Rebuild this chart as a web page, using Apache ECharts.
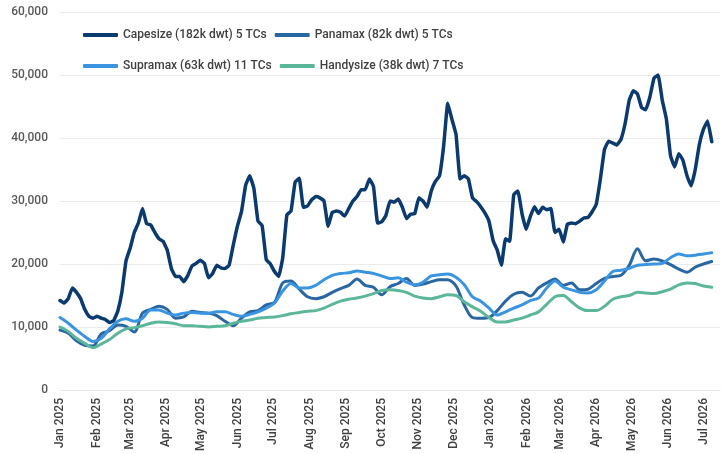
<!DOCTYPE html>
<html>
<head>
<meta charset="utf-8">
<script src="https://cdn.jsdelivr.net/npm/echarts@6/dist/echarts.min.js"></script>
<style>
html,body{margin:0;padding:0;background:#fff;}
#chart{width:723px;height:454px;}
</style>
</head>
<body>
<div id="chart"></div>
<script>
// Series names
const seriesNames = ['Capesize (182k dwt) 5 TCs', 'Panamax (82k dwt) 5 TCs', 'Supramax (63k dwt) 11 TCs', 'Handysize (38k dwt) 7 TCs'];
const monthNames = ['Jan','Feb','Mar','Apr','May','Jun','Jul','Aug','Sep','Oct','Nov','Dec'];

// Capesize: twice-weekly points from 1 Jan 2025
const capesize = [
14200,13800,14500,16200,15500,14500,12800,11700,11400,11700,
11400,11200,10700,11000,12500,15500,20500,22500,25000,26500,
28800,26400,26200,25000,24000,23600,22200,19300,18000,18000,
17200,18200,19700,20100,20600,20100,17800,18500,19800,19400,
19300,19800,23000,26000,28300,32500,34000,32000,26800,26100,
20700,20000,18800,18000,21000,27800,28400,33000,33600,29000,
29200,30200,30700,30500,30000,26000,28200,28400,28200,27600,
28800,30000,30700,31800,31800,33500,32300,26500,26700,27700,
30000,29800,30300,29000,27200,27900,28000,30500,30000,29000,
31600,33100,34000,38700,45500,43000,40600,33500,34000,33500,
30500,29900,29100,28100,26800,23700,22200,19800,24000,23600,
31000,31600,28000,25500,27500,29100,28000,29000,28600,28800,
25000,25500,23500,26300,26500,26400,26800,27300,27400,28300,
29500,33500,38200,39500,39200,38900,39800,42300,46000,47500,
47000,44800,44500,46500,49500,50000,46000,43000,37200,35400,
37500,36500,34000,32400,35000,39000,41400,42700,39400
];

// Weekly points from 1 Jan 2025
const panamax = [
9500,9000,7800,7100,7000,8900,9400,10300,10100,9200,
12200,12800,13300,12800,11400,11600,12500,12300,12200,11800,
10900,10200,11400,12400,12600,13500,13900,17000,17300,16000,
14800,14500,14800,15500,16100,16600,17600,16600,16300,15100,
16400,16900,17700,16600,16800,17200,17500,17500,16500,13500,
11500,11400,11500,12600,14100,15200,15500,14900,16200,17000,
17600,16600,17000,15900,16000,16900,17700,18000,18200,19800,
22400,20500,20800,20500,19900,19200,18700,19500,20000,20400
];
const supramax = [
11500,10600,9500,8500,7700,8200,9700,10900,11300,10900,
11400,12700,12700,12200,11900,12200,12300,12200,12200,12400,
12400,12000,11700,12000,12400,13000,13800,15700,16900,16200,
16200,16600,17500,18200,18500,18600,18900,18700,18500,18100,
17700,17800,17100,16700,17100,18100,18300,18400,17900,16700,
14800,14100,13000,11900,12400,13000,13500,14200,14600,16200,
17300,16300,15900,15500,15400,15900,17300,18800,19000,19300,
19800,19900,20000,20100,21000,21600,21300,21400,21600,21800
];
const handysize = [
10000,9300,8200,7400,6700,7300,8000,9000,9700,9900,
10200,10600,10800,10700,10500,10200,10200,10100,10000,10100,
10200,10600,10900,11100,11400,11500,11600,11800,12100,12300,
12500,12600,13000,13600,14100,14400,14600,14900,15300,15800,
15900,15800,15500,14900,14600,14500,14800,15100,15000,14000,
13200,12500,11500,10800,10800,11100,11400,11900,12400,13600,
14800,15000,14000,13000,12600,12600,13300,14400,14800,15000,
15500,15400,15300,15600,16000,16700,17000,16900,16500,16300
];

const DAY = 86400000;
const START = Date.UTC(2025, 0, 1);
const capeDates = capesize.map((_, i) => START + i * 3.5 * DAY);
const weekDates = panamax.map((_, i) => START + i * 7 * DAY);

const colors = ['#0b3a6e', '#2a66a1', '#3a94e0', '#5bb69a'];

const chart = echarts.init(document.getElementById('chart'), null, {renderer: 'canvas'});
const pair = (dates, vals) => vals.map((v, i) => [dates[i], v]);

const legendCommon = {
  left: 78,
  itemWidth: 35,
  itemHeight: 4,
  itemGap: 8,
  icon: 'roundRect',
  textStyle: {fontFamily: 'Roboto', fontSize: 12, fontWeight: 500, color: '#404040', width: 162}
};

chart.setOption({
  animation: false,
  color: colors,
  textStyle: {fontFamily: 'Roboto'},
  grid: {left: 60, right: 3, top: 12, bottom: 64, containLabel: false},
  legend: [
    Object.assign({top: 24, data: [seriesNames[0], seriesNames[1]]}, legendCommon),
    Object.assign({top: 55, data: [seriesNames[2], seriesNames[3]]}, legendCommon)
  ],
  xAxis: {
    type: 'time',
    min: START,
    max: Date.UTC(2026, 6, 15),
    minInterval: 28 * DAY,
    maxInterval: 31 * DAY,
    axisLine: {show: true, lineStyle: {color: '#e6e6e6'}},
    axisTick: {show: false},
    splitLine: {show: false},
    axisLabel: {
      rotate: 90,
      color: '#404040',
      fontSize: 12,
      fontWeight: 500,
      fontFamily: 'Roboto',
      margin: 8,
      hideOverlap: false,
      showMinLabel: true,
      showMaxLabel: false,
      formatter: function (val) {
        const d = new Date(val);
        return monthNames[d.getUTCMonth()] + ' ' + d.getUTCFullYear();
      }
    }
  },
  yAxis: {
    type: 'value',
    min: 0,
    max: 60000,
    interval: 10000,
    axisLine: {show: false},
    axisTick: {show: false},
    splitLine: {lineStyle: {color: '#ebebeb', width: 1}},
    axisLabel: {
      color: '#595959',
      fontSize: 12,
      fontWeight: 500,
      fontFamily: 'Roboto',
      margin: 12,
      formatter: v => v.toLocaleString('en-US')
    }
  },
  series: [
    {name: seriesNames[0], type: 'line', data: pair(capeDates, capesize), showSymbol: false, smooth: 0.1,
     lineStyle: {width: 3.5, color: colors[0], cap: 'round', join: 'round'}},
    {name: seriesNames[1], type: 'line', data: pair(weekDates, panamax), showSymbol: false, smooth: 0.3,
     lineStyle: {width: 3, color: colors[1], cap: 'round', join: 'round'}},
    {name: seriesNames[2], type: 'line', data: pair(weekDates, supramax), showSymbol: false, smooth: 0.3,
     lineStyle: {width: 3, color: colors[2], cap: 'round', join: 'round'}},
    {name: seriesNames[3], type: 'line', data: pair(weekDates, handysize), showSymbol: false, smooth: 0.3,
     lineStyle: {width: 3, color: colors[3], cap: 'round', join: 'round'}}
  ]
});
</script>
</body>
</html>
